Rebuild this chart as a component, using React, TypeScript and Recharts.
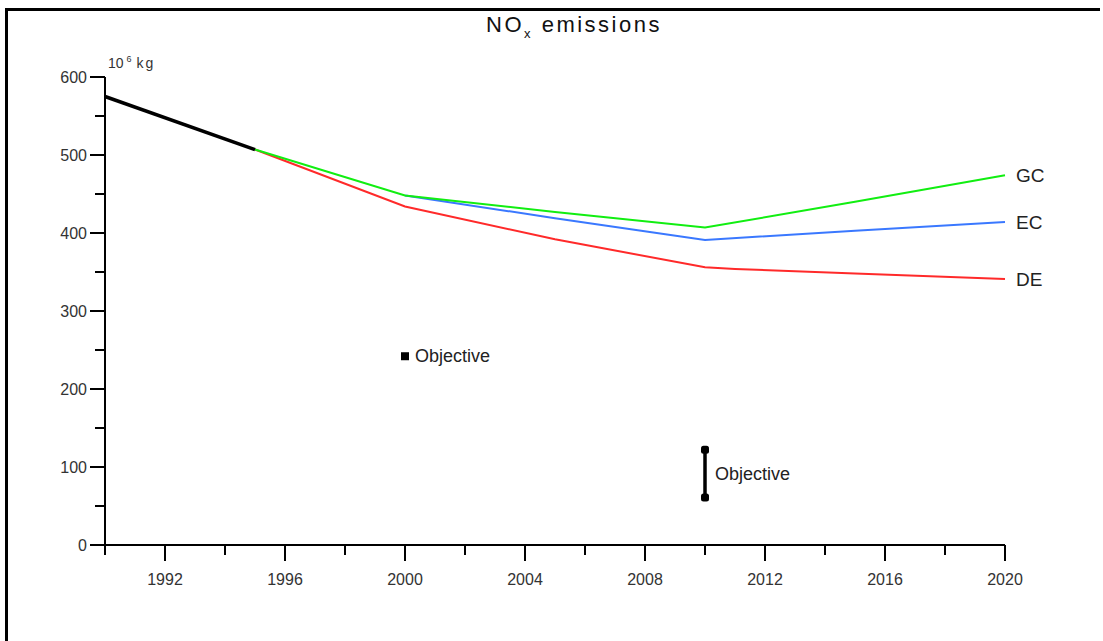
import { ComposedChart, Line, Scatter, XAxis, YAxis } from "recharts"

const FONT = "'Liberation Sans', Arial, sans-serif"

// emissions, 10^6 kg
const history = [
  { year: 1990, value: 575 },
  { year: 1995, value: 507 },
]
const scenarioDE = [
  { year: 1995, value: 507 },
  { year: 2000, value: 434 },
  { year: 2005, value: 392 },
  { year: 2010, value: 356 },
  { year: 2011, value: 354 },
  { year: 2015, value: 348 },
  { year: 2020, value: 341 },
]
const scenarioGC = [
  { year: 1995, value: 507 },
  { year: 2000, value: 448 },
  { year: 2005, value: 427 },
  { year: 2010, value: 407 },
  { year: 2015, value: 440 },
  { year: 2020, value: 474 },
]
const scenarioEC = [
  { year: 2000, value: 448 },
  { year: 2005, value: 419 },
  { year: 2010, value: 391 },
  { year: 2015, value: 403 },
  { year: 2020, value: 414 },
]
const objectivePoint = [{ year: 2000, value: 242 }]
const objectiveRange = [
  { year: 2010, value: 61 },
  { year: 2010, value: 122 },
]
const objectiveLabels = [
  { year: 2000, value: 242 },
  { year: 2010, value: 91.5 },
]

const xTicks = [1990, 1992, 1994, 1996, 1998, 2000, 2002, 2004, 2006, 2008, 2010, 2012, 2014, 2016, 2018, 2020]
const yTicks = [0, 50, 100, 150, 200, 250, 300, 350, 400, 450, 500, 550, 600]

function XTick({ x, y, payload }: any) {
  const v = payload.value
  const major = (v - 1992) % 4 === 0
  return (
    <g>
      <line x1={x} x2={x} y1={y} y2={y + (major ? 16 : 10)} stroke="#000" strokeWidth={2} />
      {major && (
        <text x={x} y={y + 40} textAnchor="middle" fontSize={16} fill="#333" fontFamily={FONT}>
          {v}
        </text>
      )}
    </g>
  )
}

function YTick({ x, y, payload }: any) {
  const v = payload.value
  const major = v % 100 === 0
  return (
    <g>
      <line x1={x - (major ? 15 : 10)} x2={x} y1={y} y2={y} stroke="#000" strokeWidth={2} />
      {major && (
        <text x={x - 18} y={y + 6} textAnchor="end" fontSize={16} fill="#333" fontFamily={FONT}>
          {v}
        </text>
      )}
    </g>
  )
}

function endLabel(name: string, last: number) {
  return (props: any) => {
    if (props.index !== last) return null
    return (
      <text x={props.x + 11} y={props.y + 7} fontSize={19} fill="#222" fontFamily={FONT}>
        {name}
      </text>
    )
  }
}

function SquareDot({ cx, cy }: any) {
  return <rect x={cx - 4} y={cy - 4} width={8} height={8} fill="#000" />
}

function CapDot({ cx, cy }: any) {
  return <rect x={cx - 4} y={cy - 4} width={8} height={8} rx={2.5} fill="#000" />
}

function ObjectiveText({ cx, cy }: any) {
  return (
    <text x={cx + 10} y={cy + 6} fontSize={18} fill="#222" fontFamily={FONT}>
      Objective
    </text>
  )
}

export default function App() {
  return (
    <div style={{ position: "absolute", left: 0, top: 0, width: 1103, height: 641, overflow: "hidden", background: "#fff" }}>
      <div
        style={{
          position: "absolute",
          left: 5,
          top: 8,
          width: 1095,
          height: 633,
          boxSizing: "border-box",
          borderLeft: "3px solid #000",
          borderTop: "3px solid #000",
        }}
      />
      <svg width={1103} height={641} style={{ position: "absolute", left: 0, top: 0 }}>
        <text x={574} y={32} textAnchor="middle" fontSize={22} fill="#111" fontFamily={FONT} letterSpacing={2.5}>
          NO
          <tspan fontSize={13} dy={6}>x</tspan>
          <tspan dy={-6}> emissions</tspan>
        </text>
        <text x={108} y={68} fontSize={14} fill="#333" fontFamily={FONT}>
          10
          <tspan fontSize={9} dx={3} dy={-6}>6</tspan>
          <tspan dx={5} dy={6} letterSpacing={2}>kg</tspan>
        </text>
      </svg>
      <div style={{ position: "absolute", left: 0, top: 0 }}>
        <ComposedChart width={1103} height={641} margin={{ top: 77, right: 98, bottom: 0, left: 0 }}>
          <XAxis
            dataKey="year"
            type="number"
            domain={[1990, 2020]}
            ticks={xTicks}
            interval={0}
            height={96}
            tickSize={0}
            tickMargin={0}
            tickLine={false}
            axisLine={{ stroke: "#000", strokeWidth: 2 }}
            tick={<XTick />}
            allowDuplicatedCategory={false}
          />
          <YAxis
            dataKey="value"
            type="number"
            domain={[0, 600]}
            ticks={yTicks}
            interval={0}
            width={105}
            tickSize={0}
            tickMargin={0}
            tickLine={false}
            axisLine={{ stroke: "#000", strokeWidth: 2 }}
            tick={<YTick />}
          />
          <Line
            data={scenarioDE}
            dataKey="value"
            stroke="#ff2a2a"
            strokeWidth={2}
            dot={false}
            isAnimationActive={false}
            label={endLabel("DE", scenarioDE.length - 1)}
          />
          <Line
            data={scenarioEC}
            dataKey="value"
            stroke="#3a78ff"
            strokeWidth={2}
            dot={false}
            isAnimationActive={false}
            label={endLabel("EC", scenarioEC.length - 1)}
          />
          <Line
            data={scenarioGC}
            dataKey="value"
            stroke="#11ee11"
            strokeWidth={2}
            dot={false}
            isAnimationActive={false}
            label={endLabel("GC", scenarioGC.length - 1)}
          />
          <Line
            data={history}
            dataKey="value"
            stroke="#000"
            strokeWidth={3.5}
            dot={false}
            isAnimationActive={false}
          />
          <Line
            data={objectiveRange}
            dataKey="value"
            stroke="#000"
            strokeWidth={3.5}
            dot={<CapDot />}
            isAnimationActive={false}
          />
          <Scatter data={objectivePoint} dataKey="value" shape={<SquareDot />} isAnimationActive={false} />
          <Scatter data={objectiveLabels} dataKey="value" shape={<ObjectiveText />} isAnimationActive={false} />
        </ComposedChart>
      </div>
    </div>
  )
}
